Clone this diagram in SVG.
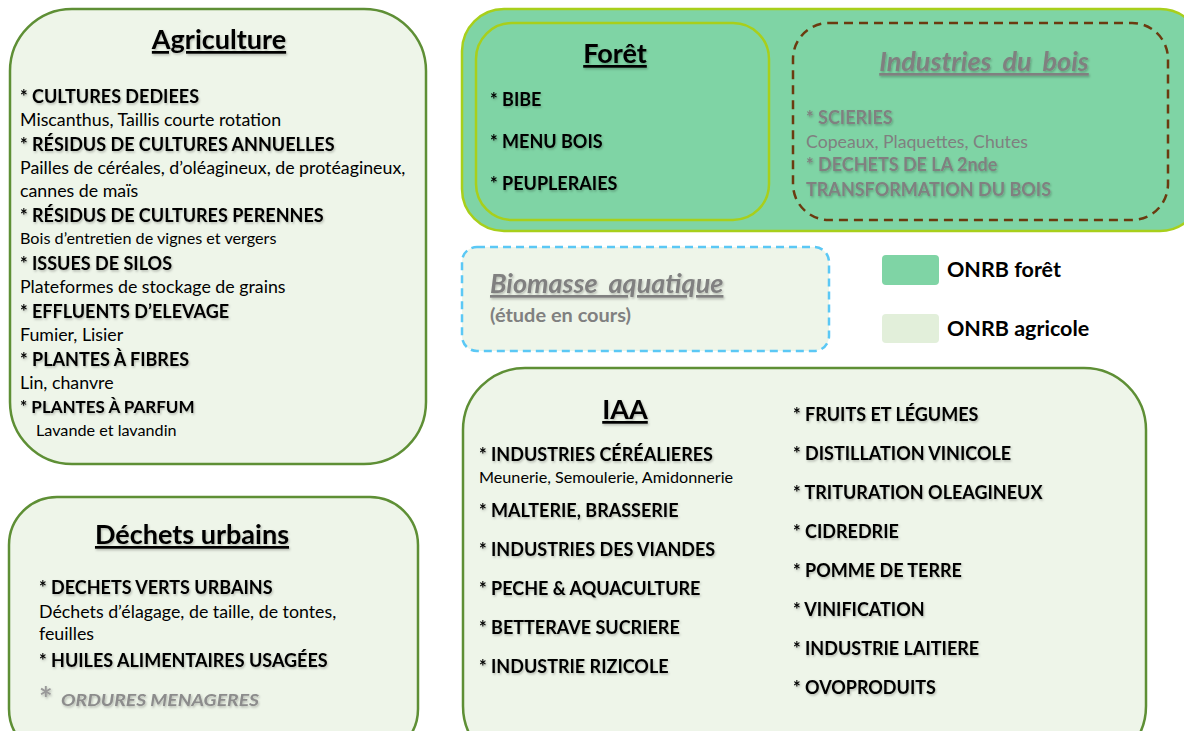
<svg xmlns="http://www.w3.org/2000/svg" width="1184" height="731" viewBox="0 0 1184 731">
<defs>
<filter id="sh" x="-5%" y="-20%" width="110%" height="150%">
<feDropShadow dx="1" dy="1.5" stdDeviation="0.8" flood-color="#000" flood-opacity="0.25"/>
</filter>
</defs>
<style>
text{font-family:Lato,"Open Sans","Liberation Sans",sans-serif;}
.box{fill:#eef5e9;stroke:#5e8f35;stroke-width:2.5;}
.forest{fill:#7fd4a5;stroke:#a8cf1b;stroke-width:2.5;}
.title{font-size:27px;font-weight:bold;fill:#000;text-decoration:underline;text-anchor:middle;filter:url(#sh);}
.it{font-size:18px;font-weight:bold;fill:#000;filter:url(#sh);}
.sub{font-size:17.8px;fill:#000;}
.small{font-size:16.2px;fill:#000;}
.gtitle{font-size:27px;font-weight:bold;font-style:italic;fill:#808080;text-decoration:underline;word-spacing:5px;filter:url(#sh);}
.git{font-size:18px;font-weight:bold;fill:#808080;filter:url(#sh);}
.gsub{font-size:17.7px;fill:#808080;}
.leg{font-size:21.5px;font-weight:bold;fill:#000;}
</style>
<g id="agriculture">
<rect class="box" x="10" y="9" width="416" height="455" rx="62"/>
<text class="title" x="219" y="49">Agriculture</text>
<text class="it" x="20" y="103">* CULTURES DEDIEES</text>
<text class="sub" x="20" y="126">Miscanthus, Taillis courte rotation</text>
<text class="it" x="20" y="151">* RÉSIDUS DE CULTURES ANNUELLES</text>
<text class="sub" x="20" y="174">Pailles de céréales, d’oléagineux, de protéagineux,</text>
<text class="sub" x="20" y="197">cannes de maïs</text>
<text class="it" x="20" y="222">* RÉSIDUS DE CULTURES PERENNES</text>
<text class="small" x="20" y="244">Bois d’entretien de vignes et vergers</text>
<text class="it" x="20" y="270">* ISSUES DE SILOS</text>
<text class="sub" x="20" y="293">Plateformes de stockage de grains</text>
<text class="it" x="20" y="318">* EFFLUENTS D’ELEVAGE</text>
<text class="sub" x="20" y="341">Fumier, Lisier</text>
<text class="it" x="20" y="366">* PLANTES À FIBRES</text>
<text class="sub" x="20" y="389">Lin, chanvre</text>
<text class="it" x="20" y="413" style="font-size:17px">* PLANTES À PARFUM</text>
<text class="small" x="36" y="436">Lavande et lavandin</text>
</g>
<g id="dechets-urbains">
<rect class="box" x="9" y="497" width="409" height="260" rx="48"/>
<text class="title" x="192" y="544">Déchets urbains</text>
<text class="it" x="39" y="594">* DECHETS VERTS URBAINS</text>
<text class="sub" x="39" y="618">Déchets d’élagage, de taille, de tontes,</text>
<text class="sub" x="39" y="640">feuilles</text>
<text class="it" x="39" y="667">* HUILES ALIMENTAIRES USAGÉES</text>
<text x="39" y="711" style="font-size:32px;font-weight:bold;fill:#999;filter:url(#sh)">*</text>
<text x="61" y="706" style="font-size:17px;font-weight:bold;font-style:italic;fill:#8c8c8c;filter:url(#sh)" textLength="198" lengthAdjust="spacingAndGlyphs">ORDURES MENAGERES</text>
</g>
<g id="onrb-foret">
<rect class="forest" x="462" y="9" width="740" height="222" rx="42"/>
</g>
<g id="foret">
<rect class="forest" x="476" y="23" width="293" height="197" rx="36"/>
<text class="title" x="615" y="63">Forêt</text>
<text class="it" x="490" y="106">* BIBE</text>
<text class="it" x="490" y="148">* MENU BOIS</text>
<text class="it" x="490" y="190">* PEUPLERAIES</text>
</g>
<g id="industries-du-bois">
<rect x="793" y="23" width="375" height="197" rx="36" fill="none" stroke="#6b3a0f" stroke-width="2.5" stroke-dasharray="9 6"/>
<text class="gtitle" x="984" y="71" text-anchor="middle">Industries du bois</text>
<text class="git" x="806" y="124">* SCIERIES</text>
<text class="gsub" x="806" y="148">Copeaux, Plaquettes, Chutes</text>
<text class="git" x="806" y="171">* DECHETS DE LA 2nde</text>
<text class="git" x="806" y="196">TRANSFORMATION DU BOIS</text>
</g>
<g id="biomasse-aquatique">
<rect x="462" y="247" width="367" height="104" rx="15" fill="#eef5e9" stroke="#5bc8f5" stroke-width="2.5" stroke-dasharray="8 5"/>
<text class="gtitle" x="490" y="293">Biomasse aquatique</text>
<text x="490" y="322" style="font-size:18px;font-weight:bold;fill:#808080" textLength="141" lengthAdjust="spacingAndGlyphs">(étude en cours)</text>
</g>
<g id="legende">
<rect x="882" y="255" width="57" height="30" rx="4" fill="#7fd4a5"/>
<text class="leg" x="947" y="277">ONRB forêt</text>
<rect x="882" y="314" width="57" height="29" rx="4" fill="#e2efda"/>
<text class="leg" x="947" y="336">ONRB agricole</text>
</g>
<g id="iaa">
<rect class="box" x="463" y="368" width="683" height="400" rx="62"/>
<text class="title" x="625" y="419">IAA</text>
<text class="it" x="479" y="461">* INDUSTRIES CÉRÉALIERES</text>
<text class="small" x="479" y="483">Meunerie, Semoulerie, Amidonnerie</text>
<text class="it" x="479" y="517">* MALTERIE, BRASSERIE</text>
<text class="it" x="479" y="556">* INDUSTRIES DES VIANDES</text>
<text class="it" x="479" y="595">* PECHE &amp; AQUACULTURE</text>
<text class="it" x="479" y="634">* BETTERAVE SUCRIERE</text>
<text class="it" x="479" y="673">* INDUSTRIE RIZICOLE</text>
<text class="it" x="793" y="421">* FRUITS ET LÉGUMES</text>
<text class="it" x="793" y="460">* DISTILLATION VINICOLE</text>
<text class="it" x="793" y="499">* TRITURATION OLEAGINEUX</text>
<text class="it" x="793" y="538">* CIDREDRIE</text>
<text class="it" x="793" y="577">* POMME DE TERRE</text>
<text class="it" x="793" y="616">* VINIFICATION</text>
<text class="it" x="793" y="655">* INDUSTRIE LAITIERE</text>
<text class="it" x="793" y="694">* OVOPRODUITS</text>
</g>
</svg>
